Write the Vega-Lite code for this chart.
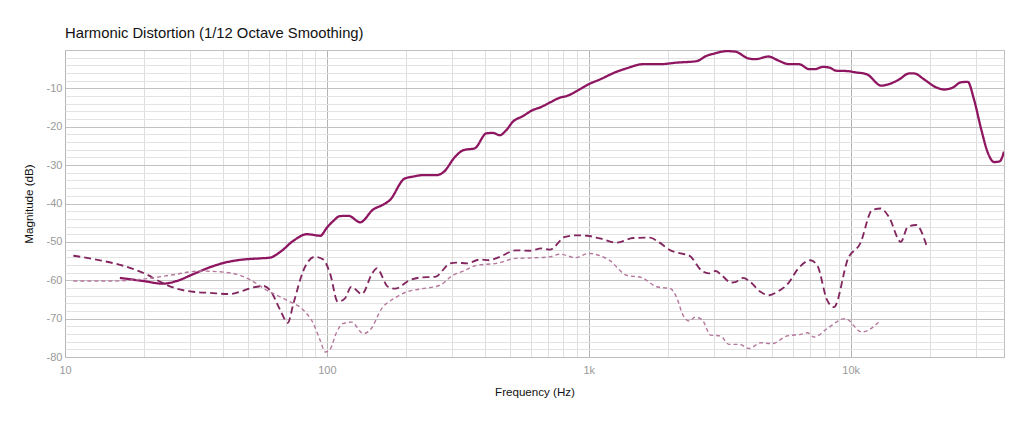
{
  "$schema": "https://vega.github.io/schema/vega-lite/v6.json",
  "autosize": {"type": "none"},
  "padding": {"left": 65, "top": 50, "right": 20, "bottom": 70},
  "width": 939,
  "height": 307,
  "background": "white",
  "title": {
    "text": "Harmonic Distortion (1/12 Octave Smoothing)",
    "anchor": "start",
    "frame": "group",
    "offset": 9,
    "fontSize": 14.8,
    "fontWeight": "normal",
    "font": "Liberation Sans",
    "color": "#111"
  },
  "config": {
    "font": "Liberation Sans",
    "view": {"stroke": "#bdbdbd", "strokeWidth": 1}
  },
  "data": {
    "values": [
      {"f": 16.2, "db": -59.4, "s": "Fundamental"},
      {"f": 19.9, "db": -60.2, "s": "Fundamental"},
      {"f": 23.7, "db": -60.9, "s": "Fundamental"},
      {"f": 26.7, "db": -60.2, "s": "Fundamental"},
      {"f": 30.9, "db": -58.4, "s": "Fundamental"},
      {"f": 35.8, "db": -56.6, "s": "Fundamental"},
      {"f": 41.4, "db": -55.3, "s": "Fundamental"},
      {"f": 47.9, "db": -54.6, "s": "Fundamental"},
      {"f": 55.5, "db": -54.3, "s": "Fundamental"},
      {"f": 60.7, "db": -54.1, "s": "Fundamental"},
      {"f": 66.4, "db": -52.6, "s": "Fundamental"},
      {"f": 74.5, "db": -49.7, "s": "Fundamental"},
      {"f": 83.9, "db": -48.0, "s": "Fundamental"},
      {"f": 94.4, "db": -48.4, "s": "Fundamental"},
      {"f": 100, "db": -46.3, "s": "Fundamental"},
      {"f": 106, "db": -44.5, "s": "Fundamental"},
      {"f": 112, "db": -43.3, "s": "Fundamental"},
      {"f": 121, "db": -43.2, "s": "Fundamental"},
      {"f": 134, "db": -44.9, "s": "Fundamental"},
      {"f": 150, "db": -41.6, "s": "Fundamental"},
      {"f": 164, "db": -40.3, "s": "Fundamental"},
      {"f": 174, "db": -39.1, "s": "Fundamental"},
      {"f": 198, "db": -33.5, "s": "Fundamental"},
      {"f": 213, "db": -33.0, "s": "Fundamental"},
      {"f": 233, "db": -32.6, "s": "Fundamental"},
      {"f": 262, "db": -32.6, "s": "Fundamental"},
      {"f": 278, "db": -31.9, "s": "Fundamental"},
      {"f": 309, "db": -27.8, "s": "Fundamental"},
      {"f": 332, "db": -26.1, "s": "Fundamental"},
      {"f": 367, "db": -25.6, "s": "Fundamental"},
      {"f": 407, "db": -21.7, "s": "Fundamental"},
      {"f": 431, "db": -21.6, "s": "Fundamental"},
      {"f": 457, "db": -22.2, "s": "Fundamental"},
      {"f": 484, "db": -20.9, "s": "Fundamental"},
      {"f": 513, "db": -18.7, "s": "Fundamental"},
      {"f": 561, "db": -17.2, "s": "Fundamental"},
      {"f": 613, "db": -15.6, "s": "Fundamental"},
      {"f": 650, "db": -15.0, "s": "Fundamental"},
      {"f": 710, "db": -13.7, "s": "Fundamental"},
      {"f": 777, "db": -12.4, "s": "Fundamental"},
      {"f": 823, "db": -12.0, "s": "Fundamental"},
      {"f": 900, "db": -10.7, "s": "Fundamental"},
      {"f": 1000, "db": -8.9, "s": "Fundamental"},
      {"f": 1101, "db": -7.7, "s": "Fundamental"},
      {"f": 1274, "db": -5.7, "s": "Fundamental"},
      {"f": 1392, "db": -4.8, "s": "Fundamental"},
      {"f": 1611, "db": -3.7, "s": "Fundamental"},
      {"f": 1866, "db": -3.7, "s": "Fundamental"},
      {"f": 2159, "db": -3.3, "s": "Fundamental"},
      {"f": 2580, "db": -2.9, "s": "Fundamental"},
      {"f": 2820, "db": -1.5, "s": "Fundamental"},
      {"f": 2990, "db": -1.0, "s": "Fundamental"},
      {"f": 3362, "db": -0.3, "s": "Fundamental"},
      {"f": 3617, "db": -0.4, "s": "Fundamental"},
      {"f": 4068, "db": -2.2, "s": "Fundamental"},
      {"f": 4320, "db": -2.4, "s": "Fundamental"},
      {"f": 4860, "db": -1.7, "s": "Fundamental"},
      {"f": 5315, "db": -2.8, "s": "Fundamental"},
      {"f": 5810, "db": -3.7, "s": "Fundamental"},
      {"f": 6350, "db": -3.7, "s": "Fundamental"},
      {"f": 6950, "db": -5.0, "s": "Fundamental"},
      {"f": 7270, "db": -5.0, "s": "Fundamental"},
      {"f": 7830, "db": -4.4, "s": "Fundamental"},
      {"f": 8300, "db": -4.6, "s": "Fundamental"},
      {"f": 8810, "db": -5.4, "s": "Fundamental"},
      {"f": 9780, "db": -5.5, "s": "Fundamental"},
      {"f": 10370, "db": -5.8, "s": "Fundamental"},
      {"f": 11500, "db": -6.3, "s": "Fundamental"},
      {"f": 13100, "db": -9.3, "s": "Fundamental"},
      {"f": 13990, "db": -8.9, "s": "Fundamental"},
      {"f": 15300, "db": -7.7, "s": "Fundamental"},
      {"f": 16720, "db": -6.1, "s": "Fundamental"},
      {"f": 17470, "db": -6.1, "s": "Fundamental"},
      {"f": 19100, "db": -7.7, "s": "Fundamental"},
      {"f": 21150, "db": -9.7, "s": "Fundamental"},
      {"f": 22770, "db": -10.3, "s": "Fundamental"},
      {"f": 24520, "db": -9.8, "s": "Fundamental"},
      {"f": 26400, "db": -8.4, "s": "Fundamental"},
      {"f": 28000, "db": -8.3, "s": "Fundamental"},
      {"f": 29500, "db": -12.6, "s": "Fundamental"},
      {"f": 31570, "db": -20.9, "s": "Fundamental"},
      {"f": 33500, "db": -27.0, "s": "Fundamental"},
      {"f": 35300, "db": -29.2, "s": "Fundamental"},
      {"f": 37080, "db": -29.0, "s": "Fundamental"},
      {"f": 38500, "db": -26.5, "s": "Fundamental"},

      {"f": 10.76, "db": -53.6, "s": "2nd Harmonic"},
      {"f": 13.6, "db": -54.8, "s": "2nd Harmonic"},
      {"f": 17.2, "db": -56.5, "s": "2nd Harmonic"},
      {"f": 20.5, "db": -58.5, "s": "2nd Harmonic"},
      {"f": 23.1, "db": -60.4, "s": "2nd Harmonic"},
      {"f": 26.7, "db": -62.2, "s": "2nd Harmonic"},
      {"f": 30.9, "db": -63.0, "s": "2nd Harmonic"},
      {"f": 35.8, "db": -63.3, "s": "2nd Harmonic"},
      {"f": 42.7, "db": -63.6, "s": "2nd Harmonic"},
      {"f": 46.6, "db": -63.0, "s": "2nd Harmonic"},
      {"f": 50.9, "db": -62.1, "s": "2nd Harmonic"},
      {"f": 57.3, "db": -61.5, "s": "2nd Harmonic"},
      {"f": 60.7, "db": -62.6, "s": "2nd Harmonic"},
      {"f": 66.4, "db": -67.8, "s": "2nd Harmonic"},
      {"f": 70.9, "db": -71.1, "s": "2nd Harmonic"},
      {"f": 74.5, "db": -66.1, "s": "2nd Harmonic"},
      {"f": 81.4, "db": -57.4, "s": "2nd Harmonic"},
      {"f": 89.9, "db": -53.9, "s": "2nd Harmonic"},
      {"f": 96.9, "db": -54.6, "s": "2nd Harmonic"},
      {"f": 103, "db": -58.4, "s": "2nd Harmonic"},
      {"f": 110, "db": -65.6, "s": "2nd Harmonic"},
      {"f": 117, "db": -64.8, "s": "2nd Harmonic"},
      {"f": 124, "db": -61.7, "s": "2nd Harmonic"},
      {"f": 136, "db": -63.6, "s": "2nd Harmonic"},
      {"f": 149, "db": -58.2, "s": "2nd Harmonic"},
      {"f": 155, "db": -56.9, "s": "2nd Harmonic"},
      {"f": 171, "db": -61.7, "s": "2nd Harmonic"},
      {"f": 182, "db": -62.2, "s": "2nd Harmonic"},
      {"f": 207, "db": -60.0, "s": "2nd Harmonic"},
      {"f": 227, "db": -59.3, "s": "2nd Harmonic"},
      {"f": 259, "db": -59.1, "s": "2nd Harmonic"},
      {"f": 296, "db": -55.6, "s": "2nd Harmonic"},
      {"f": 312, "db": -55.4, "s": "2nd Harmonic"},
      {"f": 343, "db": -55.6, "s": "2nd Harmonic"},
      {"f": 385, "db": -54.6, "s": "2nd Harmonic"},
      {"f": 416, "db": -54.8, "s": "2nd Harmonic"},
      {"f": 457, "db": -53.9, "s": "2nd Harmonic"},
      {"f": 527, "db": -52.2, "s": "2nd Harmonic"},
      {"f": 595, "db": -52.3, "s": "2nd Harmonic"},
      {"f": 660, "db": -51.7, "s": "2nd Harmonic"},
      {"f": 710, "db": -52.0, "s": "2nd Harmonic"},
      {"f": 812, "db": -48.7, "s": "2nd Harmonic"},
      {"f": 900, "db": -48.3, "s": "2nd Harmonic"},
      {"f": 985, "db": -48.4, "s": "2nd Harmonic"},
      {"f": 1101, "db": -49.1, "s": "2nd Harmonic"},
      {"f": 1274, "db": -50.2, "s": "2nd Harmonic"},
      {"f": 1477, "db": -49.0, "s": "2nd Harmonic"},
      {"f": 1713, "db": -48.9, "s": "2nd Harmonic"},
      {"f": 1844, "db": -50.0, "s": "2nd Harmonic"},
      {"f": 2050, "db": -52.2, "s": "2nd Harmonic"},
      {"f": 2240, "db": -53.0, "s": "2nd Harmonic"},
      {"f": 2410, "db": -53.5, "s": "2nd Harmonic"},
      {"f": 2710, "db": -57.6, "s": "2nd Harmonic"},
      {"f": 2870, "db": -58.2, "s": "2nd Harmonic"},
      {"f": 3050, "db": -57.6, "s": "2nd Harmonic"},
      {"f": 3240, "db": -58.9, "s": "2nd Harmonic"},
      {"f": 3490, "db": -60.6, "s": "2nd Harmonic"},
      {"f": 3650, "db": -60.4, "s": "2nd Harmonic"},
      {"f": 3880, "db": -59.4, "s": "2nd Harmonic"},
      {"f": 4130, "db": -60.4, "s": "2nd Harmonic"},
      {"f": 4520, "db": -63.0, "s": "2nd Harmonic"},
      {"f": 4880, "db": -63.9, "s": "2nd Harmonic"},
      {"f": 5250, "db": -63.0, "s": "2nd Harmonic"},
      {"f": 5760, "db": -60.9, "s": "2nd Harmonic"},
      {"f": 6310, "db": -56.9, "s": "2nd Harmonic"},
      {"f": 7010, "db": -54.8, "s": "2nd Harmonic"},
      {"f": 7450, "db": -56.1, "s": "2nd Harmonic"},
      {"f": 8130, "db": -65.2, "s": "2nd Harmonic"},
      {"f": 8630, "db": -67.0, "s": "2nd Harmonic"},
      {"f": 9780, "db": -54.3, "s": "2nd Harmonic"},
      {"f": 10880, "db": -50.4, "s": "2nd Harmonic"},
      {"f": 12080, "db": -41.7, "s": "2nd Harmonic"},
      {"f": 13030, "db": -41.3, "s": "2nd Harmonic"},
      {"f": 13990, "db": -43.5, "s": "2nd Harmonic"},
      {"f": 15550, "db": -50.0, "s": "2nd Harmonic"},
      {"f": 16510, "db": -46.1, "s": "2nd Harmonic"},
      {"f": 17800, "db": -45.6, "s": "2nd Harmonic"},
      {"f": 19470, "db": -50.9, "s": "2nd Harmonic"},

      {"f": 10.76, "db": -60.2, "s": "3rd Harmonic"},
      {"f": 14.9, "db": -60.2, "s": "3rd Harmonic"},
      {"f": 19.9, "db": -59.7, "s": "3rd Harmonic"},
      {"f": 25.2, "db": -58.7, "s": "3rd Harmonic"},
      {"f": 32.8, "db": -57.6, "s": "3rd Harmonic"},
      {"f": 39.0, "db": -57.8, "s": "3rd Harmonic"},
      {"f": 46.6, "db": -58.7, "s": "3rd Harmonic"},
      {"f": 52.5, "db": -60.4, "s": "3rd Harmonic"},
      {"f": 58.9, "db": -62.6, "s": "3rd Harmonic"},
      {"f": 70.3, "db": -65.2, "s": "3rd Harmonic"},
      {"f": 81.4, "db": -67.8, "s": "3rd Harmonic"},
      {"f": 88.8, "db": -71.3, "s": "3rd Harmonic"},
      {"f": 94.2, "db": -75.6, "s": "3rd Harmonic"},
      {"f": 98.6, "db": -78.7, "s": "3rd Harmonic"},
      {"f": 102.6, "db": -78.1, "s": "3rd Harmonic"},
      {"f": 109, "db": -73.5, "s": "3rd Harmonic"},
      {"f": 115, "db": -71.3, "s": "3rd Harmonic"},
      {"f": 124, "db": -70.9, "s": "3rd Harmonic"},
      {"f": 138, "db": -73.9, "s": "3rd Harmonic"},
      {"f": 146, "db": -73.0, "s": "3rd Harmonic"},
      {"f": 163, "db": -67.1, "s": "3rd Harmonic"},
      {"f": 180, "db": -64.8, "s": "3rd Harmonic"},
      {"f": 202, "db": -63.0, "s": "3rd Harmonic"},
      {"f": 227, "db": -62.3, "s": "3rd Harmonic"},
      {"f": 270, "db": -61.3, "s": "3rd Harmonic"},
      {"f": 303, "db": -58.7, "s": "3rd Harmonic"},
      {"f": 332, "db": -57.6, "s": "3rd Harmonic"},
      {"f": 373, "db": -56.1, "s": "3rd Harmonic"},
      {"f": 444, "db": -55.6, "s": "3rd Harmonic"},
      {"f": 527, "db": -54.3, "s": "3rd Harmonic"},
      {"f": 595, "db": -54.2, "s": "3rd Harmonic"},
      {"f": 710, "db": -53.9, "s": "3rd Harmonic"},
      {"f": 777, "db": -53.2, "s": "3rd Harmonic"},
      {"f": 890, "db": -54.1, "s": "3rd Harmonic"},
      {"f": 1000, "db": -53.0, "s": "3rd Harmonic"},
      {"f": 1101, "db": -53.6, "s": "3rd Harmonic"},
      {"f": 1200, "db": -54.8, "s": "3rd Harmonic"},
      {"f": 1392, "db": -58.7, "s": "3rd Harmonic"},
      {"f": 1590, "db": -59.3, "s": "3rd Harmonic"},
      {"f": 1816, "db": -61.7, "s": "3rd Harmonic"},
      {"f": 2050, "db": -62.2, "s": "3rd Harmonic"},
      {"f": 2160, "db": -64.3, "s": "3rd Harmonic"},
      {"f": 2290, "db": -69.1, "s": "3rd Harmonic"},
      {"f": 2420, "db": -70.6, "s": "3rd Harmonic"},
      {"f": 2550, "db": -69.6, "s": "3rd Harmonic"},
      {"f": 2710, "db": -70.3, "s": "3rd Harmonic"},
      {"f": 2920, "db": -74.3, "s": "3rd Harmonic"},
      {"f": 3180, "db": -74.5, "s": "3rd Harmonic"},
      {"f": 3430, "db": -76.7, "s": "3rd Harmonic"},
      {"f": 3750, "db": -76.7, "s": "3rd Harmonic"},
      {"f": 4100, "db": -77.8, "s": "3rd Harmonic"},
      {"f": 4530, "db": -76.3, "s": "3rd Harmonic"},
      {"f": 5010, "db": -76.5, "s": "3rd Harmonic"},
      {"f": 5730, "db": -74.5, "s": "3rd Harmonic"},
      {"f": 6450, "db": -74.1, "s": "3rd Harmonic"},
      {"f": 6830, "db": -73.7, "s": "3rd Harmonic"},
      {"f": 7250, "db": -74.8, "s": "3rd Harmonic"},
      {"f": 8130, "db": -72.6, "s": "3rd Harmonic"},
      {"f": 9520, "db": -70.0, "s": "3rd Harmonic"},
      {"f": 11050, "db": -73.5, "s": "3rd Harmonic"},
      {"f": 13030, "db": -70.4, "s": "3rd Harmonic"}
    ]
  },
  "mark": {"type": "line", "interpolate": "monotone", "clip": true},
  "encoding": {
    "x": {
      "field": "f",
      "type": "quantitative",
      "scale": {"type": "log", "domain": [10, 38500], "nice": false},
      "axis": {
        "title": "Frequency (Hz)",
        "values": [10, 20, 30, 40, 50, 60, 70, 80, 90, 100, 200, 300, 400, 500, 600, 700, 800, 900, 1000, 2000, 3000, 4000, 5000, 6000, 7000, 8000, 9000, 10000, 20000, 30000],
        "labelExpr": "datum.value == 10 ? '10' : datum.value == 100 ? '100' : datum.value == 1000 ? '1k' : datum.value == 10000 ? '10k' : ''",
        "gridColor": {"condition": {"test": "datum.value == 10 || datum.value == 100 || datum.value == 1000 || datum.value == 10000", "value": "#b4b4b4"}, "value": "#dedede"},
        "ticks": false,
        "domainColor": "#bdbdbd",
        "labelColor": "#9a9a9a",
        "labelFontSize": 11,
        "labelPadding": 7,
        "labelFlush": false,
        "titleColor": "#111",
        "titleFontSize": 11.6,
        "titleFontWeight": "normal",
        "titlePadding": 11
      }
    },
    "y": {
      "field": "db",
      "type": "quantitative",
      "scale": {"domain": [-80, 0], "nice": false},
      "axis": {
        "title": "Magnitude (dB)",
        "values": [-80, -78, -76, -74, -72, -70, -68, -66, -64, -62, -60, -58, -56, -54, -52, -50, -48, -46, -44, -42, -40, -38, -36, -34, -32, -30, -28, -26, -24, -22, -20, -18, -16, -14, -12, -10, -8, -6, -4, -2, 0],
        "labelExpr": "datum.value % 10 == 0 && datum.value != 0 ? '-' + abs(datum.value) : ''",
        "gridColor": {"condition": {"test": "datum.value % 10 == 0", "value": "#c2c2c2"}, "value": "#e3e3e3"},
        "ticks": false,
        "domain": false,
        "labelColor": "#9a9a9a",
        "labelFontSize": 11,
        "labelPadding": 3,
        "labelFlush": false,
        "titleColor": "#111",
        "titleFontSize": 11.6,
        "titleFontWeight": "normal",
        "titlePadding": 12
      }
    },
    "color": {
      "field": "s",
      "type": "nominal",
      "scale": {"domain": ["Fundamental", "2nd Harmonic", "3rd Harmonic"], "range": ["#8e1560", "#82265f", "#b5789d"]},
      "legend": null
    },
    "strokeDash": {
      "field": "s",
      "type": "nominal",
      "scale": {"domain": ["Fundamental", "2nd Harmonic", "3rd Harmonic"], "range": [[1, 0], [7, 4], [4, 3]]},
      "legend": null
    },
    "strokeWidth": {
      "field": "s",
      "type": "nominal",
      "scale": {"domain": ["Fundamental", "2nd Harmonic", "3rd Harmonic"], "range": [2.3, 1.4, 0.8]},
      "legend": null
    }
  }
}
